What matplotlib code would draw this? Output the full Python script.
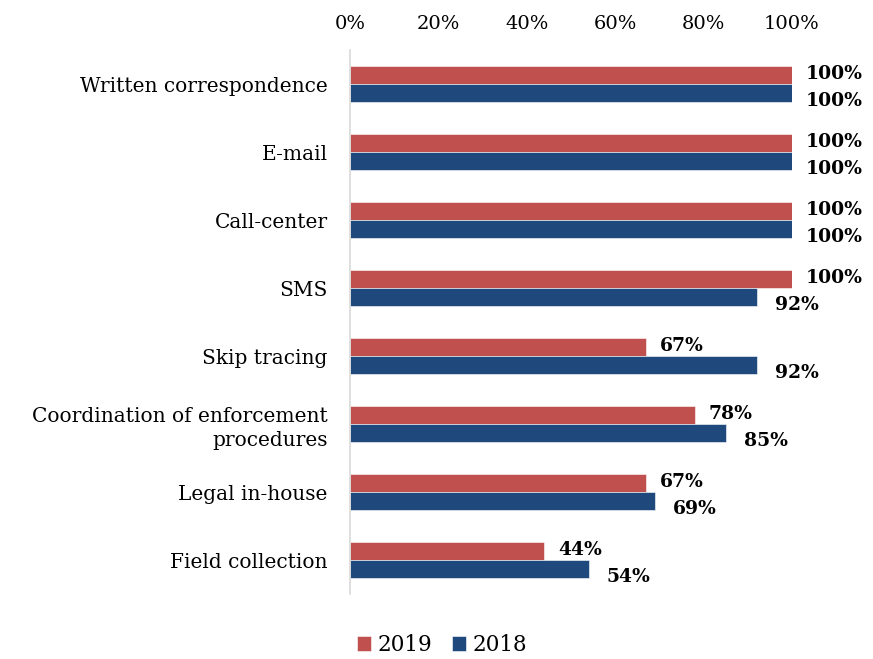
import matplotlib
matplotlib.use("Agg")
import matplotlib.pyplot as plt
import numpy as np

categories = ["Written correspondence", "E-mail", "Call-center", "SMS",
              "Skip tracing", "Coordination of enforcement\nprocedures",
              "Legal in-house", "Field collection"]
values_2019 = [100, 100, 100, 100, 67, 78, 67, 44]
values_2018 = [100, 100, 100, 92, 92, 85, 69, 54]
tick_values = [0, 20, 40, 60, 80, 100]

red = "#C0504D"
blue = "#1F497D"
plt.rcParams["font.family"] = ["DejaVu Serif"]

fig = plt.figure(figsize=(8.73, 6.59), dpi=100)
ax = fig.add_axes([350 / 873, 1 - 594 / 659, 442 / 873, 544 / 659])

y = np.arange(len(categories))
h = 0.26
ax.barh(y - h / 2, values_2019, height=h, color=red, label="2019",
        edgecolor="white", linewidth=0.4)
ax.barh(y + h / 2, values_2018, height=h, color=blue, label="2018",
        edgecolor="white", linewidth=0.4)

label_font = dict(fontsize=13.5, fontweight="bold")
for yi, v in zip(y, values_2019):
    ax.annotate(f"{v}%", (v, yi - h / 2), xytext=(10, 1), textcoords="offset points",
                ha="left", va="center", **label_font)
for yi, v in zip(y, values_2018):
    ax.annotate(f"{v}%", (v, yi + h / 2), xytext=(10 if v == 100 else 13, -6),
                textcoords="offset points",
                ha="left", va="center", **label_font)

ax.set_xlim(0, 100)
ax.set_ylim(len(categories) - 0.5, -0.5)
ax.set_yticks(y)
ax.set_yticklabels(categories, fontsize=14.5, linespacing=1.35)
for lbl in ax.get_yticklabels():
    lbl.set_horizontalalignment("right")
ax.xaxis.tick_top()
ax.set_xticks(tick_values)
ax.set_xticklabels([f"{t}%" for t in tick_values], fontsize=14)
ax.tick_params(axis="both", length=0)
ax.tick_params(axis="x", pad=12)
ax.tick_params(axis="y", pad=16)
for side in ["top", "right", "bottom"]:
    ax.spines[side].set_visible(False)
ax.spines["left"].set_color("#D9D9D9")
ax.spines["left"].set_linewidth(1.2)

fig.legend(loc="center", bbox_to_anchor=(442 / 873, 1 - 645 / 659), ncol=2,
           frameon=False, fontsize=15.5, handlelength=0.65, handleheight=0.65,
           handletextpad=0.3, columnspacing=0.9)

fig.savefig("out.png", dpi=100)
